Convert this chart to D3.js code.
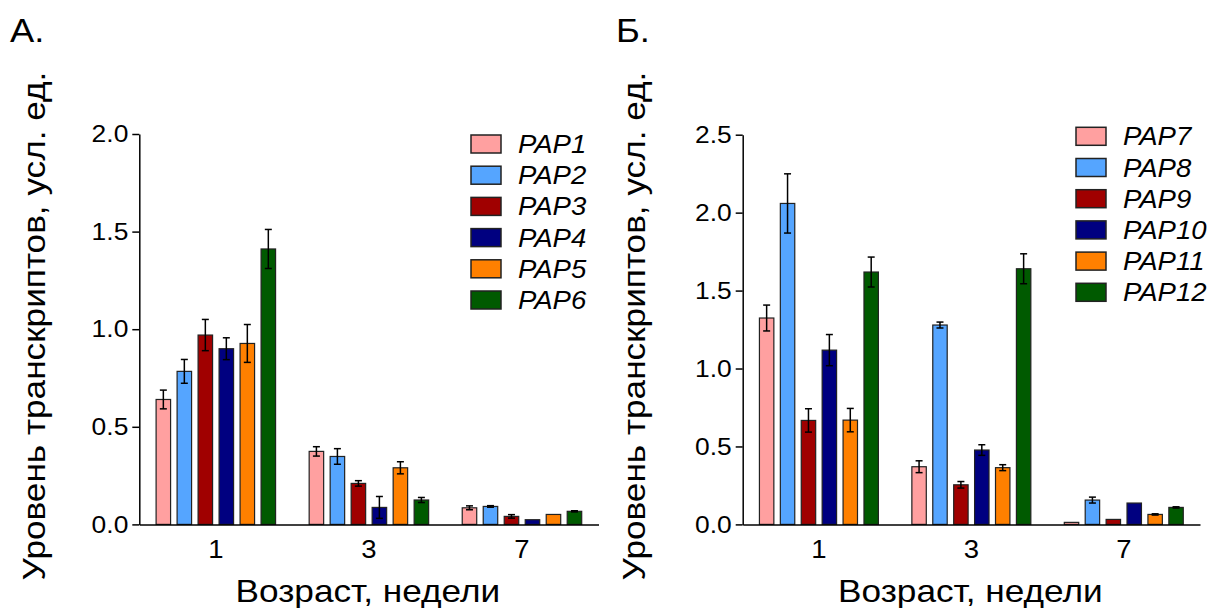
<!DOCTYPE html>
<html>
<head>
<meta charset="utf-8">
<script src="https://cdn.jsdelivr.net/npm/d3@7"></script>
<style>
  body { margin: 0; background: #fff; }
  svg { font-family: "Liberation Sans", Arial, sans-serif; }
</style>
</head>
<body>
<svg id="chart" width="1214" height="608"></svg>
<script>
// Age groups (weeks) on the x axis
const weeks = ["1", "3", "7"];

// Panel A genes, means per week and error (SEM) per week
const genesA = ["PAP1", "PAP2", "PAP3", "PAP4", "PAP5", "PAP6"];
const meansA = [
  [0.640, 0.374, 0.085],
  [0.784, 0.348, 0.092],
  [0.970, 0.210, 0.041],
  [0.900, 0.087, 0.024],
  [0.927, 0.290, 0.051],
  [1.411, 0.125, 0.067]
];
const errA = [
  [0.048, 0.024, 0.010],
  [0.061, 0.040, 0.004],
  [0.080, 0.014, 0.009],
  [0.056, 0.056, 0.000],
  [0.097, 0.031, 0.000],
  [0.100, 0.013, 0.003]
];

// Panel B genes
const genesB = ["PAP7", "PAP8", "PAP9", "PAP10", "PAP11", "PAP12"];
const meansB = [
  [1.324, 0.370, 0.013],
  [2.059, 1.279, 0.156],
  [0.667, 0.254, 0.032],
  [1.118, 0.477, 0.137],
  [0.669, 0.364, 0.064],
  [1.619, 1.640, 0.109]
];
const errB = [
  [0.083, 0.038, 0.000],
  [0.190, 0.019, 0.019],
  [0.075, 0.021, 0.000],
  [0.100, 0.034, 0.000],
  [0.075, 0.019, 0.004],
  [0.096, 0.096, 0.004]
];

const ticksA = [0, 0.5, 1.0, 1.5, 2.0];
const ticksB = [0, 0.5, 1.0, 1.5, 2.0, 2.5];

const colors = ["#ffa0a0", "#55a5ff", "#a00000", "#000080", "#ff8000", "#005a00"];

// the original text is a bit wider than Liberation Sans
const stretch = 1.1;

const svg = d3.select("#chart");

function drawPanel(opts) {
  const g = svg.append("g");

  // Scales
  const x0 = d3.scaleBand()
      .domain(weeks)
      .range([opts.left, opts.right]);
  const x1 = d3.scaleBand()
      .domain(d3.range(opts.genes.length))
      .range([0, x0.bandwidth()])
      .paddingInner(0.31)
      .paddingOuter(0.8);
  const y = d3.scaleLinear()
      .domain([0, opts.ymax])
      .range([opts.bottom, opts.top]);

  // Bars
  opts.genes.forEach((gene, i) => {
    const rows = weeks.map((w, j) => ({ w: w, v: opts.means[i][j], e: opts.err[i][j] }));
    g.selectAll(".bar-" + i)
      .data(rows)
      .enter()
      .append("rect")
      .attr("x", d => x0(d.w) + x1(i))
      .attr("y", d => y(d.v))
      .attr("width", x1.bandwidth())
      .attr("height", d => y(0) - y(d.v))
      .attr("fill", colors[i])
      .attr("stroke", "#222")
      .attr("stroke-width", 1.2);

    // Error bars
    const eb = g.selectAll(".err-" + i)
      .data(rows.filter(d => d.e > 0))
      .enter()
      .append("g")
      .attr("stroke", "#000")
      .attr("stroke-width", 1.5);
    const cx = d => x0(d.w) + x1(i) + x1.bandwidth() / 2;
    eb.append("line")
      .attr("x1", cx).attr("x2", cx)
      .attr("y1", d => y(d.v - d.e))
      .attr("y2", d => y(d.v + d.e));
    [1, -1].forEach(s => {
      eb.append("line")
        .attr("x1", d => cx(d) - 3.5).attr("x2", d => cx(d) + 3.5)
        .attr("y1", d => y(d.v + s * d.e))
        .attr("y2", d => y(d.v + s * d.e));
    });
  });

  // Y axis
  const yAxis = g.append("g")
      .attr("transform", `translate(${opts.left},0)`)
      .call(d3.axisLeft(y).tickValues(opts.ticks).tickFormat(d3.format(".1f"))
        .tickSize(7).tickSizeOuter(0).tickPadding(3));
  yAxis.selectAll("text")
      .style("font-size", "24px")
      .attr("fill", "#000")
      .attr("transform", `scale(${stretch},1)`);
  yAxis.selectAll("line, path").attr("stroke", "#000").attr("stroke-width", 1.5);

  // X axis (no tick marks)
  const xAxis = g.append("g")
      .attr("transform", `translate(0,${opts.bottom})`)
      .call(d3.axisBottom(x0).tickSize(0).tickSizeOuter(0).tickPadding(16));
  xAxis.selectAll("text")
      .style("font-size", "25px")
      .attr("fill", "#000")
      .attr("transform", `scale(${stretch},1)`);
  xAxis.select("path").attr("stroke", "#000").attr("stroke-width", 1.5);

  // Axis titles
  g.append("text")
      .attr("transform", `translate(${opts.ytitleX},326) rotate(-90) scale(${stretch},1)`)
      .attr("text-anchor", "middle")
      .style("font-size", "32px")
      .text("Уровень транскриптов, усл. ед.");
  g.append("text")
      .attr("transform", `translate(${(opts.left + opts.right) / 2 - 1},602) scale(${stretch},1)`)
      .attr("text-anchor", "middle")
      .style("font-size", "32px")
      .text("Возраст, недели");

  // Panel letter
  g.append("text")
      .attr("transform", `translate(${opts.letterX},42) scale(${stretch},1)`)
      .style("font-size", "33px")
      .text(opts.letter);

  // Legend
  const leg = g.selectAll(".leg")
      .data(opts.genes)
      .enter()
      .append("g")
      .attr("transform", (d, i) => `translate(${opts.legX},${opts.legY + i * 31.2})`);
  leg.append("rect")
      .attr("width", 30)
      .attr("height", 18)
      .attr("fill", (d, i) => colors[i])
      .attr("stroke", "#222")
      .attr("stroke-width", 1.5);
  leg.append("text")
      .attr("transform", `translate(47,18) scale(${stretch},1)`)
      .style("font-size", "25px")
      .style("font-style", "italic")
      .text(d => d);
}

drawPanel({
  genes: genesA, means: meansA, err: errA, ticks: ticksA, ymax: 2.0,
  left: 139.3, right: 598.5, top: 134, bottom: 524.4,
  ytitleX: 45, letter: "А.", letterX: 10, legX: 471, legY: 135
});

drawPanel({
  genes: genesB, means: meansB, err: errB, ticks: ticksB, ymax: 2.5,
  left: 742.7, right: 1200, top: 134.7, bottom: 524.4,
  ytitleX: 645, letter: "Б.", letterX: 616, legX: 1076, legY: 127.3
});
</script>
</body>
</html>
